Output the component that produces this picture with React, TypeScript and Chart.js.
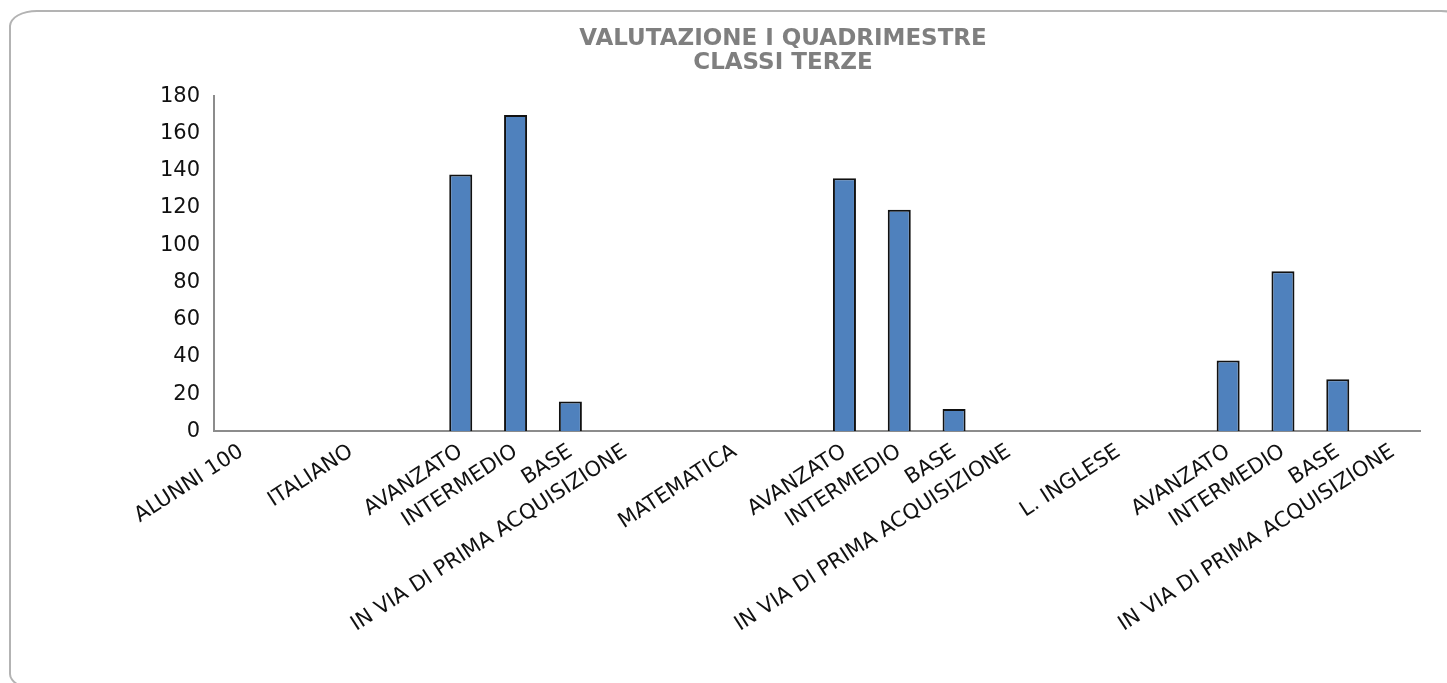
import React, { useEffect, useRef } from "react";
import { Chart, registerables } from "chart.js";

Chart.register(...registerables);

const categories: string[] = [
  "ALUNNI 100", "", "ITALIANO", "",
  "AVANZATO", "INTERMEDIO", "BASE", "IN VIA DI PRIMA ACQUISIZIONE",
  "", "MATEMATICA", "",
  "AVANZATO", "INTERMEDIO", "BASE", "IN VIA DI PRIMA ACQUISIZIONE",
  "", "L. INGLESE", "",
  "AVANZATO", "INTERMEDIO", "BASE", "IN VIA DI PRIMA ACQUISIZIONE",
];

const values: (number | null)[] = [
  null, null, null, null,
  138, 170, 16, null,
  null, null, null,
  136, 119, 12, null,
  null, null, null,
  38, 86, 28, null,
];

const titleLines: string[] = ["VALUTAZIONE I QUADRIMESTRE", "CLASSI TERZE"];
const yMin = 0;
const yMax = 180;
const yStep = 20;

export default function App() {
  const canvasRef = useRef<HTMLCanvasElement | null>(null);

  useEffect(() => {
    if (!canvasRef.current) return;
    const chart = new Chart(canvasRef.current, {
      type: "bar",
      data: {
        labels: categories,
        datasets: [
          {
            label: "Valutazione",
            data: values,
            backgroundColor: "#4F81BD",
            borderColor: "#111111",
            borderWidth: 2,
            barPercentage: 0.42,
            categoryPercentage: 1,
          },
        ],
      },
      options: {
        animation: false,
        responsive: true,
        maintainAspectRatio: false,
        layout: { padding: { left: 146, right: 27, top: 7, bottom: 38 } },
        plugins: {
          legend: { display: false },
          tooltip: { enabled: false },
          title: {
            display: true,
            text: titleLines,
            color: "#7f7f7f",
            font: { family: "DejaVu Sans", size: 23, weight: "bold", lineHeight: 1.05 },
            padding: { top: 0, bottom: 21 },
          },
        },
        scales: {
          x: {
            grid: { display: false, drawTicks: false },
            border: { display: true, color: "#8c8c8c", width: 2 },
            ticks: {
              color: "#111111",
              autoSkip: false,
              maxRotation: 33,
              minRotation: 33,
              padding: 8,
              font: { family: "DejaVu Sans", size: 21 },
            },
          },
          y: {
            min: yMin,
            max: yMax,
            grid: { display: false, drawTicks: false },
            border: { display: true, color: "#8c8c8c", width: 2 },
            ticks: {
              stepSize: yStep,
              color: "#111111",
              padding: 14,
              font: { family: "DejaVu Sans", size: 21 },
            },
          },
        },
      },
    });
    return () => chart.destroy();
  }, []);

  return (
    <div style={{ position: "absolute", left: 0, top: 0, width: 1447, height: 683, overflow: "hidden", background: "#fff" }}>
      <div
        style={{
          position: "absolute",
          left: 9,
          top: 10,
          width: 1460,
          height: 680,
          border: "2px solid #b3b3b3",
          borderRadius: "28px / 16px",
          boxSizing: "border-box",
        }}
      />
      <div style={{ position: "absolute", left: 0, top: 20, width: 1447, height: 663 }}>
        <canvas ref={canvasRef} />
      </div>
    </div>
  );
}
